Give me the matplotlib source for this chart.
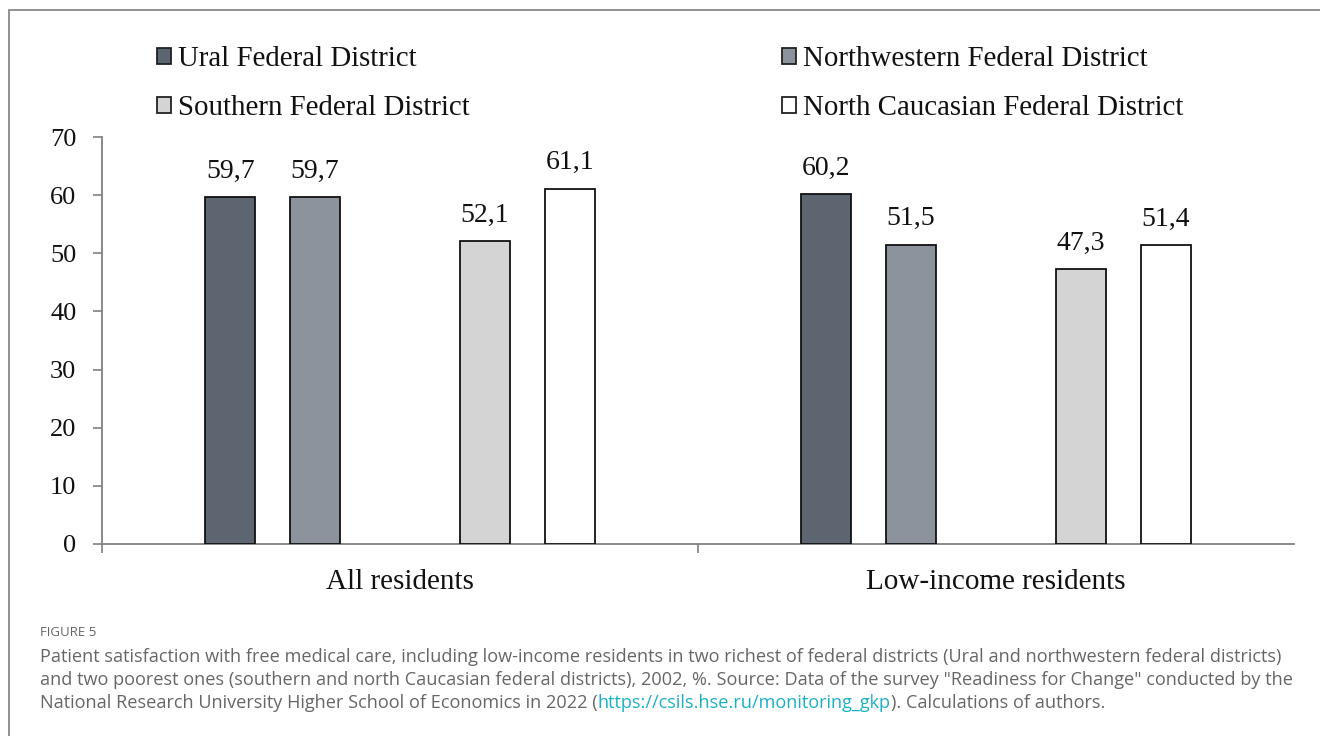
import matplotlib
matplotlib.use("Agg")
import matplotlib.pyplot as plt
import numpy as np
from matplotlib.patches import Rectangle, Patch

categories = ["All residents", "Low-income residents"]
series = ["Ural Federal District", "Northwestern Federal District",
          "Southern Federal District", "North Caucasian Federal District"]
ural = [59.7, 60.2]
northwestern = [59.7, 51.5]
southern = [52.1, 47.3]
north_caucasian = [61.1, 51.4]
values = [ural, northwestern, southern, north_caucasian]
colors = ["#5d6670", "#8c939c", "#d4d4d4", "#ffffff"]
yticks = [0, 10, 20, 30, 40, 50, 60, 70]

W, H = 1320, 736
fig = plt.figure(figsize=(W / 100, H / 100), dpi=100)
serif = "Liberation Serif"

ax = fig.add_axes([102 / W, 1 - 544 / H, (1294 - 102) / W, (544 - 137) / H])
offsets = [-2, -1, 1, 2]
step = 0.1425
bw = 0.084
x = np.arange(len(categories))
handles = []
for i, (name, vals, col) in enumerate(zip(series, values, colors)):
    bars = ax.bar(x + offsets[i] * step, vals, width=bw, color=col,
                  edgecolor="#111111", linewidth=1.3, zorder=3)
    for b, v in zip(bars, vals):
        ax.annotate(f"{v:.1f}".replace(".", ","),
                    (b.get_x() + b.get_width() / 2, v),
                    xytext=(0, 14), textcoords="offset points",
                    ha="center", va="baseline", fontsize=20, family=serif,
                    color="#111111")
    handles.append(Patch(facecolor=col, edgecolor="#222222", linewidth=1.3, label=name))

ax.set_xlim(-0.5, 1.5)
ax.set_ylim(0, 70)
ax.set_yticks(yticks)
ax.set_yticklabels([str(t) for t in yticks], fontsize=19, family=serif, color="#111111")
ax.set_xticks(x)
ax.set_xticklabels(categories, fontsize=21, family=serif, color="#111111")
ax.set_xticks([-0.5, 0.5], minor=True)
ax.tick_params(axis="x", which="major", length=0, pad=18)
ax.tick_params(axis="x", which="minor", length=6.5, width=1.2, color="#808080", direction="out")
ax.tick_params(axis="y", length=6.5, width=1.2, color="#808080", pad=12)
for s in ["top", "right"]:
    ax.spines[s].set_visible(False)
for s in ["left", "bottom"]:
    ax.spines[s].set_color("#808080")
    ax.spines[s].set_linewidth(1.3)

order = [0, 2, 1, 3]
leg = fig.legend([handles[i] for i in order], [series[i] for i in order],
                 ncol=2, loc="upper left", bbox_to_anchor=(157 / W, 1 - 46 / H),
                 frameon=False, borderpad=0, borderaxespad=0,
                 handlelength=0.48, handleheight=0.48, handletextpad=0.25,
                 columnspacing=10.8, labelspacing=0.8,
                 prop={"family": serif, "size": 20.8})
for t in leg.get_texts():
    t.set_color("#111111")

# frame around figure
fig.patches.append(Rectangle((9 / W, -0.1), 1.2, 1 - 10 / H + 0.1, transform=fig.transFigure,
                             fill=False, edgecolor="#888888", linewidth=1.3))

# caption
cap_font = "Open Sans"
gray = "#666666"
fs = 13.1
fig.text(40 / W, 1 - 633 / H, "FIGURE 5", fontsize=9.5, family=cap_font, color=gray, va="center")
line1 = ("Patient satisfaction with free medical care, including low-income residents in two richest of "
         "federal districts (Ural and northwestern federal districts)")
line2 = ("and two poorest ones (southern and north Caucasian federal districts), 2002, %. Source: Data of "
         "the survey \"Readiness for Change\" conducted by the")
fig.text(40 / W, 1 - 657 / H, line1, fontsize=fs, family=cap_font, color=gray, va="center")
fig.text(40 / W, 1 - 680 / H, line2, fontsize=fs, family=cap_font, color=gray, va="center")
parts = [("National Research University Higher School of Economics in 2022 (", gray),
         ("https://csils.hse.ru/monitoring_gkp", "#1ab0c4"),
         ("). Calculations of authors.", gray)]
fig.canvas.draw()
r = fig.canvas.get_renderer()
xpos = 40
for txt, col in parts:
    t = fig.text(xpos / W, 1 - 703 / H, txt, fontsize=fs, family=cap_font, color=col, va="center")
    bb = t.get_window_extent(renderer=r)
    xpos = bb.x1

fig.savefig("out.png", dpi=100)
